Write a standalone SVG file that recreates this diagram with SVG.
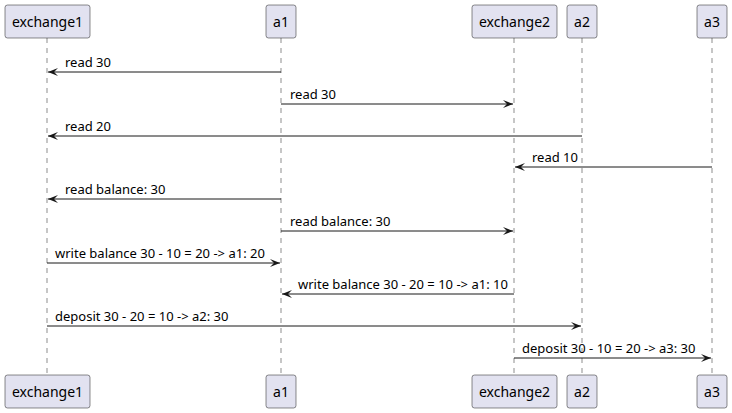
<svg xmlns="http://www.w3.org/2000/svg" width="732" height="413" viewBox="0 0 732 413">
<defs>
<style>
.box{fill:#E2E2F0;stroke:#181818;stroke-width:0.5}
.pt{font-family:"Noto Sans","DejaVu Sans",sans-serif;font-size:14px;fill:#000;text-anchor:middle}
.life{stroke:#181818;stroke-width:0.5;stroke-dasharray:5,5;fill:none}
.msg{stroke:#181818;stroke-width:1;fill:none}
.mt{font-family:"Noto Sans","DejaVu Sans",sans-serif;font-size:13px;fill:#000}
</style>
<marker id="ah" viewBox="0 0 10 8" refX="10" refY="4" markerWidth="10" markerHeight="8" markerUnits="userSpaceOnUse" orient="auto">
<polygon points="0,0 10,4 0,8 4,4" fill="#181818"/>
</marker>
</defs>
<g id="lifelines">
<line class="life" x1="47" y1="38" x2="47" y2="375"/>
<line class="life" x1="281" y1="38" x2="281" y2="375"/>
<line class="life" x1="514" y1="38" x2="514" y2="375"/>
<line class="life" x1="582" y1="38" x2="582" y2="375"/>
<line class="life" x1="712" y1="38" x2="712" y2="375"/>
</g>
<g id="exchange1">
<rect class="box" x="5" y="5" width="85" height="33" rx="2.5"/>
<text class="pt" x="47.5" y="26.5">exchange1</text>
<rect class="box" x="5" y="375" width="85" height="33" rx="2.5"/>
<text class="pt" x="47.5" y="396.5">exchange1</text>
</g>
<g id="a1">
<rect class="box" x="266" y="5" width="30" height="33" rx="2.5"/>
<text class="pt" x="281" y="26.5">a1</text>
<rect class="box" x="266" y="375" width="30" height="33" rx="2.5"/>
<text class="pt" x="281" y="396.5">a1</text>
</g>
<g id="exchange2">
<rect class="box" x="472" y="5" width="85" height="33" rx="2.5"/>
<text class="pt" x="514.5" y="26.5">exchange2</text>
<rect class="box" x="472" y="375" width="85" height="33" rx="2.5"/>
<text class="pt" x="514.5" y="396.5">exchange2</text>
</g>
<g id="a2">
<rect class="box" x="567" y="5" width="30" height="33" rx="2.5"/>
<text class="pt" x="582" y="26.5">a2</text>
<rect class="box" x="567" y="375" width="30" height="33" rx="2.5"/>
<text class="pt" x="582" y="396.5">a2</text>
</g>
<g id="a3">
<rect class="box" x="697" y="5" width="30" height="33" rx="2.5"/>
<text class="pt" x="712" y="26.5">a3</text>
<rect class="box" x="697" y="375" width="30" height="33" rx="2.5"/>
<text class="pt" x="712" y="396.5">a3</text>
</g>
<g id="connectors">
<line class="msg" x1="281" y1="72" x2="48" y2="72" marker-end="url(#ah)"/>
<text class="mt" x="65" y="67">read 30</text>
<line class="msg" x1="281" y1="104" x2="513" y2="104" marker-end="url(#ah)"/>
<text class="mt" x="290" y="99">read 30</text>
<line class="msg" x1="582" y1="136" x2="48" y2="136" marker-end="url(#ah)"/>
<text class="mt" x="65" y="131">read 20</text>
<line class="msg" x1="712" y1="167" x2="515" y2="167" marker-end="url(#ah)"/>
<text class="mt" x="532" y="162">read 10</text>
<line class="msg" x1="281" y1="199" x2="48" y2="199" marker-end="url(#ah)"/>
<text class="mt" x="65" y="194">read balance: 30</text>
<line class="msg" x1="281" y1="231" x2="513" y2="231" marker-end="url(#ah)"/>
<text class="mt" x="290" y="226">read balance: 30</text>
<line class="msg" x1="47" y1="263" x2="280" y2="263" marker-end="url(#ah)"/>
<text class="mt" x="55" y="258">write balance 30 - 10 = 20 -&gt; a1: 20</text>
<line class="msg" x1="514" y1="294" x2="282" y2="294" marker-end="url(#ah)"/>
<text class="mt" x="298" y="289">write balance 30 - 20 = 10 -&gt; a1: 10</text>
<line class="msg" x1="47" y1="326" x2="581" y2="326" marker-end="url(#ah)"/>
<text class="mt" x="55" y="321">deposit 30 - 20 = 10 -&gt; a2: 30</text>
<line class="msg" x1="514" y1="358" x2="711" y2="358" marker-end="url(#ah)"/>
<text class="mt" x="522" y="353">deposit 30 - 10 = 20 -&gt; a3: 30</text>
</g>
</svg>
